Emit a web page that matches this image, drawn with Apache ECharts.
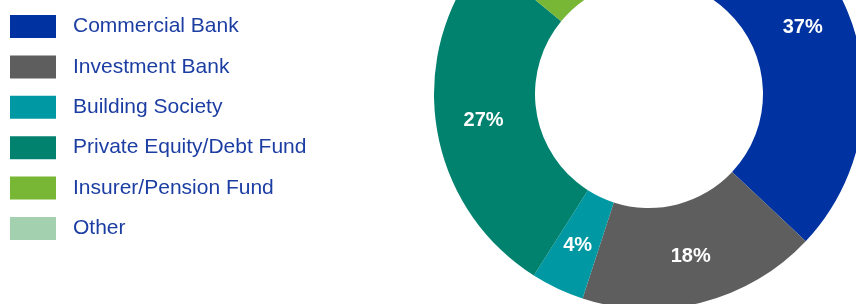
<!DOCTYPE html>
<html>
<head>
<meta charset="utf-8">
<script src="https://cdn.jsdelivr.net/npm/echarts@6/dist/echarts.min.js"></script>
<style>
  html, body { margin: 0; padding: 0; background: #fff; }
  #chart { width: 856px; height: 304px; }
</style>
</head>
<body>
<div id="chart"></div>
<script>
const categories = ['Commercial Bank', 'Investment Bank', 'Building Society', 'Private Equity/Debt Fund', 'Insurer/Pension Fund', 'Other']
const shares = [37, 18, 4, 27, 10, 4]
const colors = ['#0033a1', '#5e5e5e', '#0098a3', '#00826f', '#77b735', '#a3d0ae']

const chart = echarts.init(document.getElementById('chart'))

chart.setOption({
  backgroundColor: '#fff',
  color: colors,
  animation: false,
  legend: {
    orient: 'vertical',
    left: 10,
    top: 15,
    padding: 0,
    icon: 'rect',
    itemWidth: 46,
    itemHeight: 23,
    itemGap: 17.4,
    selectedMode: false,
    data: categories,
    textStyle: {
      fontFamily: 'Liberation Sans, Arial, sans-serif',
      fontSize: 21,
      lineHeight: 23,
      color: '#1c3ea3',
      padding: [0, 0, 0, 12]
    }
  },
  series: [{
    type: 'pie',
    center: [649, 94],
    radius: [114, 215],
    startAngle: 90,
    clockwise: true,
    avoidLabelOverlap: false,
    label: {
      show: true,
      position: 'inside',
      formatter: '{c}%',
      color: '#fff',
      fontWeight: 'bold',
      fontSize: 20,
      fontFamily: 'Liberation Sans, Arial, sans-serif'
    },
    labelLine: { show: false },
    emphasis: { disabled: true },
    itemStyle: { borderWidth: 0 },
    data: categories.map((name, i) => ({ name, value: shares[i] }))
  }]
})
</script>
</body>
</html>
